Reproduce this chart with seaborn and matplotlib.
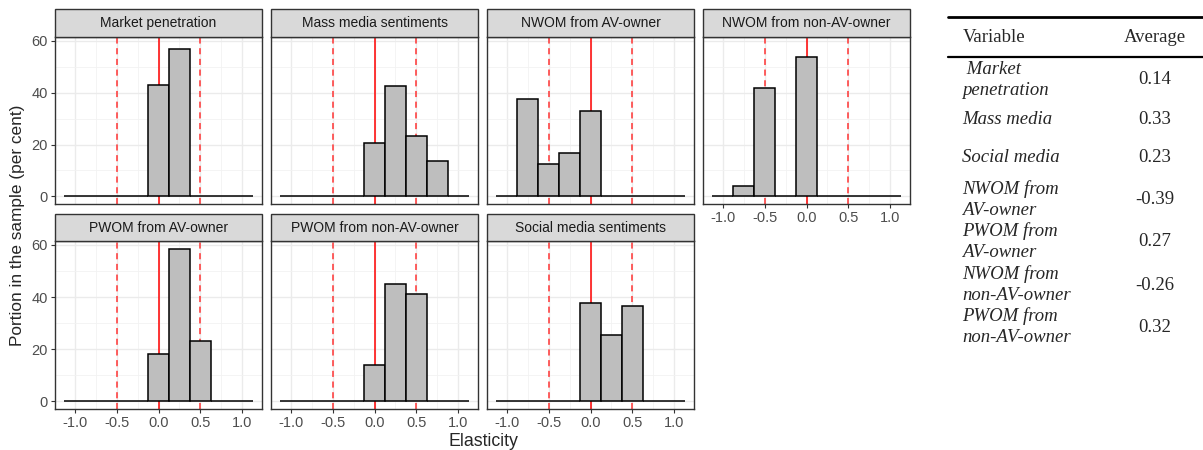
import numpy as np
import pandas as pd
import matplotlib
matplotlib.use("Agg")
import matplotlib.pyplot as plt
import seaborn as sns
from matplotlib.patches import Rectangle
from matplotlib.lines import Line2D

# Дані: частка вибірки (%) у кожному інтервалі еластичності
bin_centers = [-1.0, -0.75, -0.5, -0.25, 0.0, 0.25, 0.5, 0.75, 1.0]
panel_names = ["Market penetration", "Mass media sentiments", "NWOM from AV-owner",
               "NWOM from non-AV-owner", "PWOM from AV-owner", "PWOM from non-AV-owner",
               "Social media sentiments"]
market_penetration = [0, 0, 0, 0, 43.0, 57.0, 0, 0, 0]
mass_media = [0, 0, 0, 0, 20.5, 42.5, 23.3, 13.5, 0]
nwom_av = [0, 37.5, 12.5, 16.6, 33.1, 0, 0, 0, 0]
nwom_non_av = [0, 4.1, 41.8, 0, 53.6, 0, 0, 0, 0]
pwom_av = [0, 0, 0, 0, 18.3, 58.6, 23.2, 0, 0]
pwom_non_av = [0, 0, 0, 0, 14.1, 44.9, 41.1, 0, 0]
social_media = [0, 0, 0, 0, 37.7, 25.6, 36.7, 0, 0]
panel_values = [market_penetration, mass_media, nwom_av, nwom_non_av,
                pwom_av, pwom_non_av, social_media]

# Таблиця середніх
table_vars = [[" Market", "penetration"], ["Mass media"], ["Social media"],
              ["NWOM from", "AV-owner"], ["PWOM from", "AV-owner"],
              ["NWOM from", "non-AV-owner"], ["PWOM from", "non-AV-owner"]]
table_avg = ["0.14", "0.33", "0.23", "-0.39", "0.27", "-0.26", "0.32"]

sns.set_theme(style="whitegrid")
plt.rcParams['font.family'] = ['Liberation Sans', 'DejaVu Sans']

W, H = 1203, 450
fig = plt.figure(figsize=(W / 100, H / 100), dpi=100)

def fx(px):
    return px / W

def fy(py):
    return 1 - py / H

col_left = [55, 271, 487, 703]
pw = 207
rows = [(9, 37, 204), (214, 241, 409)]

for i, (name, vals) in enumerate(zip(panel_names, panel_values)):
    r, c = divmod(i, 4)
    st, pt, pb = rows[r]
    x0 = col_left[c]
    ax = fig.add_axes([fx(x0), fy(pb), fx(pw), (pb - pt) / H])
    df = pd.DataFrame({"Elasticity": bin_centers, "Portion": vals})
    # вертикальні лінії під стовпчиками
    ax.axvline(0, color="red", lw=1.1, zorder=1)
    for v in (-0.5, 0.5):
        ax.axvline(v, color="#FF3333", lw=1.1, ls=(0, (4, 3)), zorder=1)
    sns.histplot(data=df, x="Elasticity", weights="Portion", binwidth=0.25,
                 binrange=(-1.125, 1.125),
                 color="#BEBEBE", edgecolor="black", linewidth=1.1, alpha=1,
                 ax=ax, zorder=2)
    ax.set_xlim(-1.2375, 1.2375)
    ax.set_ylim(-2.93, 61.5)
    ax.set_xticks([-1.0, -0.5, 0.0, 0.5, 1.0])
    ax.set_xticks([-0.75, -0.25, 0.25, 0.75], minor=True)
    ax.set_yticks([0, 20, 40, 60])
    ax.set_yticks([10, 30, 50], minor=True)
    ax.grid(which="major", color="#EBEBEB", lw=1.0)
    ax.grid(which="minor", color="#F2F2F2", lw=0.6)
    ax.set_facecolor("white")
    for s in ax.spines.values():
        s.set_color("#333333")
        s.set_linewidth(1.0)
    ax.set_xlabel("")
    ax.set_ylabel("")
    show_x = (r == 1) or (c == 3)
    show_y = (c == 0)
    ax.tick_params(axis="both", which="major", length=3, width=0.8, color="#333333",
                   labelsize=10.5, labelcolor="#4D4D4D", pad=2,
                   bottom=show_x, labelbottom=show_x, left=show_y, labelleft=show_y)
    ax.tick_params(which="minor", length=0)
    if show_x:
        ax.set_xticklabels(["-1.0", "-0.5", "0.0", "0.5", "1.0"])
    # смужка з назвою панелі
    fig.add_artist(Rectangle((fx(x0), fy(pt)), fx(pw), (pt - st) / H,
                             transform=fig.transFigure, facecolor="#D9D9D9",
                             edgecolor="#333333", lw=1.0))
    fig.text(fx(x0 + pw / 2), fy((st + pt) / 2), name, ha="center", va="center",
             fontsize=10, color="#1A1A1A")

fig.text(fx(18), fy(225), "Portion in the sample (per cent)", rotation=90,
         ha="center", va="center", fontsize=12.4)
fig.text(fx(483), fy(441), "Elasticity", ha="center", va="center", fontsize=12.8)

# таблиця праворуч
serif = ['Liberation Serif', 'DejaVu Serif']
fs = 13.5
fig.add_artist(Line2D([fx(948), fx(1203)], [fy(17), fy(17)], color="black", lw=2.0,
                      transform=fig.transFigure))
fig.add_artist(Line2D([fx(948), fx(1203)], [fy(57), fy(57)], color="black", lw=1.6,
                      transform=fig.transFigure))
fig.text(fx(963), fy(37), "Variable", ha="left", va="center", fontsize=fs, family=serif)
fig.text(fx(1155), fy(37), "Average", ha="center", va="center", fontsize=fs, family=serif)

row_mid = [80, 120, 158, 200, 242, 285, 327]
for lines, avg, ym in zip(table_vars, table_avg, row_mid):
    if len(lines) == 2:
        fig.text(fx(962), fy(ym - 10.5), lines[0], ha="left", va="center",
                 fontsize=fs, style="italic", family=serif)
        fig.text(fx(962), fy(ym + 10.5), lines[1], ha="left", va="center",
                 fontsize=fs, style="italic", family=serif)
    else:
        fig.text(fx(962), fy(ym), lines[0], ha="left", va="center",
                 fontsize=fs, style="italic", family=serif)
    fig.text(fx(1155), fy(ym), avg, ha="center", va="center", fontsize=fs, family=serif)

fig.savefig("out.png", dpi=100, facecolor="white")
